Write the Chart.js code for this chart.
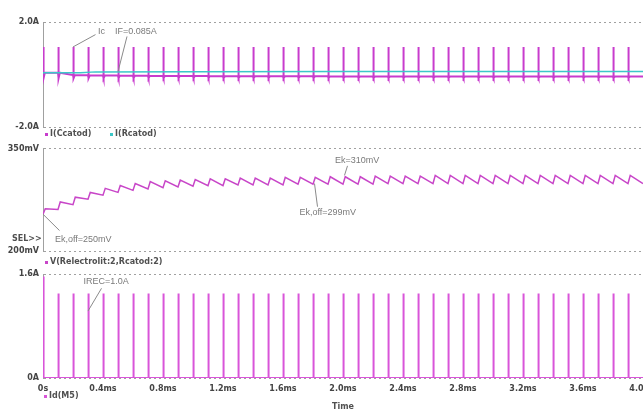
<!DOCTYPE html>
<html>
<head>
<meta charset="utf-8">
<script src="https://cdn.jsdelivr.net/npm/chart.js@4.4.0/dist/chart.umd.min.js"></script>
<style>
  html, body { margin: 0; padding: 0; background: #fff; }
  #wrap { position: relative; width: 643px; height: 412px; overflow: hidden; }
  .panel { position: absolute; left: 0; width: 643px; }
  canvas { display: block; }
</style>
</head>
<body>
<div id="wrap">
  <div class="panel" style="top:0px;height:140px"><canvas id="c1" width="643" height="140"></canvas></div>
  <div class="panel" style="top:140px;height:125px"><canvas id="c2" width="643" height="125"></canvas></div>
  <div class="panel" style="top:265px;height:147px"><canvas id="c3" width="643" height="147"></canvas></div>
</div>
<script>
// time axis (ms)
const xTickValues = [0, 0.4, 0.8, 1.2, 1.6, 2.0, 2.4, 2.8, 3.2, 3.6, 4.0];
const xTickLabels = ['0s', '0.4ms', '0.8ms', '1.2ms', '1.6ms', '2.0ms', '2.4ms', '2.8ms', '3.2ms', '3.6ms', '4.0ms'];

// switching instants, one pulse every 0.1ms
const pulseTimes = [0.0, 0.1, 0.2, 0.3, 0.4, 0.5, 0.6, 0.7, 0.8, 0.9,
  1.0, 1.1, 1.2, 1.3, 1.4, 1.5, 1.6, 1.7, 1.8, 1.9,
  2.0, 2.1, 2.2, 2.3, 2.4, 2.5, 2.6, 2.7, 2.8, 2.9,
  3.0, 3.1, 3.2, 3.3, 3.4, 3.5, 3.6, 3.7, 3.8, 3.9];

// panel 1: I(Ccatod) level between pulses and I(Rcatod) (A)
const icBase = [0.07, 0.07, -0.02, -0.03, -0.04, -0.04, -0.05, -0.05, -0.06, -0.06,
  -0.06, -0.06, -0.07, -0.07, -0.07, -0.07, -0.07, -0.07, -0.07, -0.07,
  -0.08, -0.08, -0.08, -0.08, -0.08, -0.08, -0.08, -0.08, -0.08, -0.08,
  -0.08, -0.08, -0.08, -0.08, -0.08, -0.08, -0.08, -0.08, -0.08, -0.08];
const icPeak = 1.05;
const icHold = 0.9;
const icUnder = -0.14;
const irTimes = [0, 0.25, 0.35, 1.0, 2.0, 4.0];
const irValues = [0.07, 0.07, 0.10, 0.105, 0.11, 0.11];

// panel 2: V(Relectrolit:2,Rcatod:2) in mV, value before and right after each pulse
const vTrough = [254, 261, 268, 276, 282, 286, 289, 291, 293, 294,
  295, 296, 296, 297, 297, 297, 297, 298, 298, 298,
  298, 298, 298, 299, 299, 299, 299, 299, 299, 299,
  299, 299, 299, 299, 299, 299, 299, 299, 299, 299];
const vPeak = [262, 272, 279, 286, 292, 296, 299, 302, 303, 304,
  305, 306, 306, 307, 307, 307, 308, 308, 308, 309,
  309, 309, 310, 310, 310, 310, 311, 311, 311, 311,
  311, 311, 311, 311, 311, 311, 311, 311, 311, 311];
const vEnd = 299;

// panel 3: Id(M5) peak of each pulse (A), then flat top
const idPeaks = [1.56, 1.30, 1.30, 1.30, 1.30, 1.30, 1.30, 1.30, 1.30, 1.30,
  1.30, 1.30, 1.30, 1.30, 1.30, 1.30, 1.30, 1.30, 1.30, 1.30,
  1.30, 1.30, 1.30, 1.30, 1.30, 1.30, 1.30, 1.30, 1.30, 1.30,
  1.30, 1.30, 1.30, 1.30, 1.30, 1.30, 1.30, 1.30, 1.30, 1.30];
const idHold = 1.0;
const pulseWidth = 0.006; // ms

const p1YLabels = ['-2.0A', '2.0A'];
const p2YLabels = ['200mV', '350mV'];
const p3YLabels = ['0A', '1.6A'];

// build polylines
const icData = [], vData = [], idData = [];
pulseTimes.forEach((t, k) => {
  icData.push({ x: t, y: icBase[k] }, { x: t, y: icPeak }, { x: t + 0.003, y: icHold },
    { x: t + pulseWidth, y: icHold }, { x: t + pulseWidth, y: icUnder }, { x: t + 0.012, y: icBase[k] });
  vData.push({ x: t, y: vTrough[k] }, { x: t + 0.015, y: vPeak[k] });
  idData.push({ x: t, y: 0 }, { x: t, y: idPeaks[k] }, { x: t + 0.003, y: idHold },
    { x: t + pulseWidth, y: idHold }, { x: t + pulseWidth, y: 0 });
});
icData.push({ x: 4.0, y: icBase[icBase.length - 1] });
vData.push({ x: 4.0, y: vEnd });
idData.push({ x: 4.0, y: 0 });
const irData = irTimes.map((t, i) => ({ x: t, y: irValues[i] }));

const axisFont = { family: 'DejaVu Sans', size: 8, weight: 'bold' };
const gridGrey = '#a0a0a0';

// text notes, leader lines and legends drawn in data coordinates
const notesPlugin = {
  id: 'notes',
  afterDraw(chart, args, opts) {
    const ctx = chart.ctx;
    const xs = chart.scales.x, ys = chart.scales.y;
    ctx.save();
    (opts.notes || []).forEach(n => {
      ctx.strokeStyle = '#8a8a8a';
      ctx.lineWidth = 1;
      ctx.beginPath();
      ctx.moveTo(xs.getPixelForValue(n.from[0]), ys.getPixelForValue(n.from[1]));
      ctx.lineTo(xs.getPixelForValue(n.to[0]), ys.getPixelForValue(n.to[1]));
      ctx.stroke();
      ctx.font = '9px "Liberation Sans"';
      ctx.fillStyle = '#7a7a7a';
      ctx.textBaseline = 'middle';
      ctx.textAlign = 'left';
      ctx.fillText(n.text, xs.getPixelForValue(n.at[0]), ys.getPixelForValue(n.at[1]));
    });
    ctx.font = 'bold 8px "DejaVu Sans"';
    ctx.textBaseline = 'middle';
    (opts.legend || []).forEach(l => {
      ctx.fillStyle = l.color;
      ctx.fillRect(l.x - 5, l.y - 1, 3, 3);
      ctx.fillStyle = '#505050';
      ctx.textAlign = 'left';
      ctx.fillText(l.text, l.x, l.y);
    });
    (opts.labels || []).forEach(l => {
      ctx.fillStyle = '#505050';
      ctx.textAlign = l.align || 'left';
      ctx.fillText(l.text, l.x, l.y);
    });
    ctx.restore();
  }
};
Chart.register(notesPlugin);

function yAxis(min, max, labels) {
  return {
    type: 'linear',
    min: min,
    max: max,
    afterFit: s => { s.width = 43; },
    afterBuildTicks: s => { s.ticks = [{ value: min }, { value: max }]; },
    ticks: { callback: (v, i) => labels[i], font: axisFont, color: '#444', padding: 4 },
    grid: { color: gridGrey, drawTicks: false, lineWidth: 1 },
    border: { display: true, color: gridGrey, dash: [2, 3] }
  };
}

const hiddenX = { type: 'linear', min: 0, max: 4.0, display: false };

function lineSet(data, color, width) {
  return { data: data, borderColor: color, borderWidth: width, pointRadius: 0, tension: 0, fill: false };
}

const baseOptions = {
  responsive: false,
  animation: false,
  parsing: false,
  events: [],
};

new Chart(document.getElementById('c1'), {
  type: 'line',
  data: { datasets: [lineSet(irData, '#3cc8c8', 1.5), lineSet(icData, '#c83ccd', 2)] },
  options: {
    ...baseOptions,
    layout: { padding: { top: 22, bottom: 13, left: 0, right: 0 } },
    scales: { x: hiddenX, y: yAxis(-2, 2, p1YLabels) },
    plugins: {
      legend: { display: false }, tooltip: { enabled: false },
      notes: {
        notes: [
          { text: 'Ic', at: [0.367, 1.63], from: [0.35, 1.52], to: [0.2, 1.05] },
          { text: 'IF=0.085A', at: [0.48, 1.63], from: [0.56, 1.45], to: [0.5, 0.11] }
        ],
        legend: [
          { text: 'I(Ccatod)', color: '#c83ccd', x: 50, y: 134 },
          { text: 'I(Rcatod)', color: '#3cc8c8', x: 115, y: 134 }
        ]
      }
    }
  }
});

new Chart(document.getElementById('c2'), {
  type: 'line',
  data: { datasets: [lineSet(vData, '#c846c8', 1.5)] },
  options: {
    ...baseOptions,
    layout: { padding: { top: 6, bottom: 14, left: 0, right: 0 } },
    scales: { x: hiddenX, y: yAxis(200, 350, p2YLabels) },
    plugins: {
      legend: { display: false }, tooltip: { enabled: false },
      notes: {
        notes: [
          { text: 'Ek=310mV', at: [1.947, 333], from: [2.03, 325], to: [2.01, 311] },
          { text: 'Ek,off=299mV', at: [1.71, 257], from: [1.83, 265], to: [1.81, 299] },
          { text: 'Ek,off=250mV', at: [0.08, 217], from: [0.0, 254], to: [0.11, 230] }
        ],
        legend: [
          { text: 'V(Relectrolit:2,Rcatod:2)', color: '#c846c8', x: 50, y: 122 }
        ],
        labels: [
          { text: 'SEL>>', x: 12, y: 99 }
        ]
      }
    }
  }
});

new Chart(document.getElementById('c3'), {
  type: 'line',
  data: { datasets: [lineSet(idData, '#d955d9', 2)] },
  options: {
    ...baseOptions,
    layout: { padding: { top: 9, bottom: 16, left: 0, right: 0 } },
    scales: {
      x: {
        type: 'linear',
        min: 0,
        max: 4.0,
        afterBuildTicks: s => { s.ticks = xTickValues.map(v => ({ value: v })); },
        afterFit: s => { s.paddingLeft = 0; s.paddingRight = 0; s.height = 18; },
        ticks: { callback: (v, i) => xTickLabels[i], font: axisFont, color: '#444', padding: 6, maxRotation: 0, autoSkip: false },
        grid: { display: false, drawTicks: false },
        border: { display: false }
      },
      y: yAxis(0, 1.6, p3YLabels)
    },
    plugins: {
      legend: { display: false }, tooltip: { enabled: false },
      notes: {
        notes: [
          { text: 'IREC=1.0A', at: [0.27, 1.48], from: [0.39, 1.38], to: [0.30, 1.03] }
        ],
        legend: [
          { text: 'Id(M5)', color: '#d955d9', x: 49, y: 131 }
        ],
        labels: [
          { text: 'Time', x: 343, y: 142, align: 'center' }
        ]
      }
    }
  }
});
</script>
</body>
</html>
